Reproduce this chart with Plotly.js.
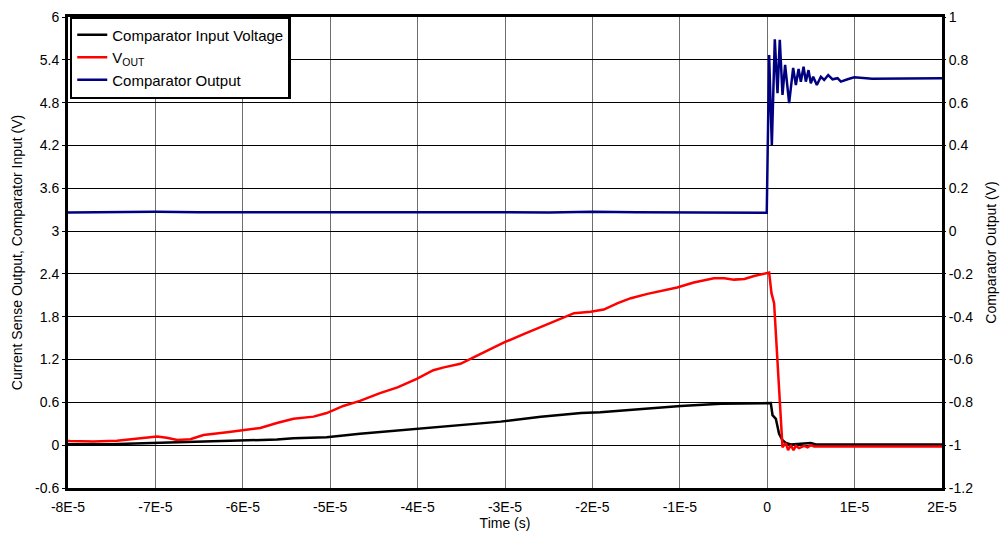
<!DOCTYPE html>
<html>
<head>
<meta charset="utf-8">
<script src="https://cdn.plot.ly/plotly-3.0.1.min.js"></script>
<style>html,body{margin:0;padding:0;background:#fff;}#chart{width:1000px;height:535px;}</style>
</head>
<body>
<div id="chart"></div>
<script>
// Times in microseconds (converted to seconds below)
const inputTimeUs = [-80, -75.2, -71.4, -65.6, -59.9, -56.1, -54.2, -50.4, -46.6, -42.7, -39.7, -35.1, -30.5, -25.9, -21.3, -19.1, -14.5, -9.9, -5.3, 0.03, 0.41, 0.61, 0.99, 1.36, 1.75, 2.13, 2.70, 3.85, 4.99, 5.57, 9.58, 20];
const inputVolts  = [0.012, 0.012, 0.026, 0.044, 0.058, 0.08, 0.097, 0.11, 0.16, 0.20, 0.23, 0.28, 0.33, 0.40, 0.45, 0.46, 0.51, 0.55, 0.58, 0.59, 0.59, 0.42, 0.37, 0.16, 0.07, 0.03, 0.01, 0.02, 0.03, 0.01, 0.01, 0.01];

const voutTimeUs = [-80, -79.77, -77.1, -74.4, -71.7, -69.8, -68.7, -67.5, -66.0, -64.5, -61.8, -59.5, -58.0, -56.1, -54.2, -51.9, -50.4, -48.5, -46.6, -44.3, -42.3, -40.1, -38.2, -37.0, -35.1, -33.6, -32.0, -30.1, -27.8, -25.9, -24.0, -22.1, -20.2, -18.7, -17.1, -15.6, -13.7, -11.8, -10.3, -8.4, -6.1, -4.9, -3.8, -2.6, -1.5, 0.22, 0.49, 0.79, 1.75, 2.13, 2.39, 2.70, 3.01, 3.28, 3.65, 4.23, 4.62, 4.99, 5.37, 6.14, 9.58, 13.0, 20];
const voutVolts  = [0.06, 0.058, 0.05, 0.063, 0.097, 0.12, 0.105, 0.073, 0.083, 0.143, 0.18, 0.21, 0.24, 0.31, 0.37, 0.40, 0.45, 0.55, 0.62, 0.73, 0.81, 0.93, 1.05, 1.09, 1.14, 1.23, 1.33, 1.44, 1.56, 1.66, 1.75, 1.85, 1.87, 1.90, 1.99, 2.06, 2.12, 2.17, 2.21, 2.28, 2.34, 2.34, 2.32, 2.33, 2.37, 2.42, 2.13, 1.99, -0.03, 0.03, -0.07, 0.0, -0.07, -0.01, -0.04, -0.01, -0.03, 0.0, -0.02, -0.02, -0.02, -0.02, -0.02];

const outTimeUs = [-80, -76, -72, -70, -65, -60, -55, -50, -45, -40, -35, -30, -25, -20, -15, -10, -5, -0.05, 0.22, 0.53, 0.87, 1.18, 1.44, 1.75, 2.05, 2.51, 2.97, 3.28, 3.59, 3.85, 4.16, 4.42, 4.73, 4.99, 5.26, 5.68, 6.14, 6.52, 6.98, 7.48, 8.05, 8.43, 9.2, 9.95, 12, 15, 18, 20];
const outVolts  = [0.087, 0.088, 0.092, 0.090, 0.088, 0.089, 0.087, 0.088, 0.088, 0.089, 0.087, 0.088, 0.087, 0.090, 0.088, 0.087, 0.088, 0.086, 0.822, 0.402, 0.896, 0.644, 0.893, 0.636, 0.776, 0.598, 0.762, 0.682, 0.757, 0.698, 0.768, 0.698, 0.752, 0.690, 0.721, 0.682, 0.721, 0.706, 0.729, 0.709, 0.714, 0.698, 0.709, 0.718, 0.712, 0.714, 0.716, 0.714];

const xTickVals = [-8e-5, -7e-5, -6e-5, -5e-5, -4e-5, -3e-5, -2e-5, -1e-5, 0, 1e-5, 2e-5];
const xTickText = ['-8E-5', '-7E-5', '-6E-5', '-5E-5', '-4E-5', '-3E-5', '-2E-5', '-1E-5', '0', '1E-5', '2E-5'];
const yLeftTicks = [-0.6, 0, 0.6, 1.2, 1.8, 2.4, 3, 3.6, 4.2, 4.8, 5.4, 6];
const yLeftText = ['-0.6', '0', '0.6', '1.2', '1.8', '2.4', '3', '3.6', '4.2', '4.8', '5.4', '6'];
const yRightTicks = [-1.2, -1, -0.8, -0.6, -0.4, -0.2, 0, 0.2, 0.4, 0.6, 0.8, 1];
const yRightText = ['-1.2', '-1', '-0.8', '-0.6', '-0.4', '-0.2', '0', '0.2', '0.4', '0.6', '0.8', '1'];

const toSec = a => a.map(v => v * 1e-6);
const FONT = 'Liberation Sans, Arial, sans-serif';

const traces = [
  {x: toSec(inputTimeUs), y: inputVolts, name: 'Comparator Input Voltage', type: 'scatter', mode: 'lines',
   line: {color: '#000000', width: 2.5}, yaxis: 'y'},
  {x: toSec(voutTimeUs), y: voutVolts, name: 'V<sub>OUT</sub>', type: 'scatter', mode: 'lines',
   line: {color: '#ff0000', width: 2.5}, yaxis: 'y'},
  {x: toSec(outTimeUs), y: outVolts, name: 'Comparator Output', type: 'scatter', mode: 'lines',
   line: {color: '#000080', width: 2.5}, yaxis: 'y2'}
];

const layout = {
  width: 1000, height: 535,
  margin: {l: 68, r: 58, t: 17, b: 47, pad: 0},
  paper_bgcolor: '#ffffff', plot_bgcolor: '#ffffff',
  font: {family: FONT, size: 14, color: '#000'},
  showlegend: true,
  legend: {x: 0.002, y: 1.002, xanchor: 'left', yanchor: 'top', bgcolor: '#ffffff',
           bordercolor: '#000', borderwidth: 2.5, font: {family: FONT, size: 15, color: '#000'},
           tracegroupgap: 0, itemwidth: 30},
  xaxis: {range: [-8e-5, 2e-5], tickvals: xTickVals, ticktext: xTickText, showgrid: true,
          gridcolor: '#6e6e6e', gridwidth: 1, zeroline: false, showline: true, mirror: true,
          linecolor: '#000', linewidth: 3, ticks: 'outside', ticklen: 4, tickcolor: 'rgba(0,0,0,0)',
          tickfont: {family: FONT, size: 14},
          title: {text: 'Time (s)', font: {family: FONT, size: 14}, standoff: 4}},
  yaxis: {range: [-0.6, 6], tickvals: yLeftTicks, ticktext: yLeftText, showgrid: true,
          gridcolor: '#000', gridwidth: 1, zeroline: false, showline: true, mirror: true,
          linecolor: '#000', linewidth: 3, ticks: 'outside', ticklen: 3, tickcolor: '#000',
          tickfont: {family: FONT, size: 14},
          title: {text: 'Current Sense Output, Comparator Input (V)', font: {family: FONT, size: 14}, standoff: 10}},
  yaxis2: {range: [-1.2, 1], tickvals: yRightTicks, ticktext: yRightText, overlaying: 'y', side: 'right',
           showgrid: false, zeroline: false, showline: false, ticks: 'outside', ticklen: 3, tickcolor: '#000',
           tickfont: {family: FONT, size: 14},
           title: {text: 'Comparator Output (V)', font: {family: FONT, size: 14}, standoff: 14}}
};

Plotly.newPlot('chart', traces, layout, {displayModeBar: false, staticPlot: true});
</script>
</body>
</html>
